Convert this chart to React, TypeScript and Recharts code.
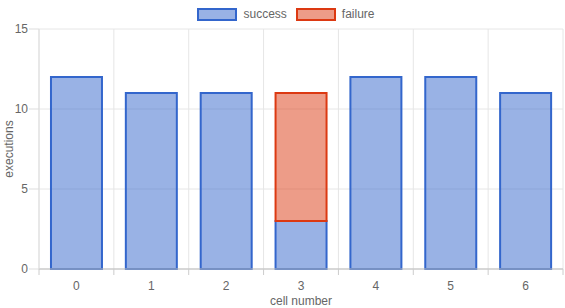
import { BarChart, Bar, XAxis, YAxis, CartesianGrid } from 'recharts'

// cell numbers and how many executions passed / failed in each
const cells = ['0', '1', '2', '3', '4', '5', '6']
const success = [12, 11, 11, 3, 12, 12, 11]
const failure = [0, 0, 0, 8, 0, 0, 0]
const yTicks = [0, 5, 10, 15]

const data = cells.map((c, i) => ({ cell: c, success: success[i], failure: failure[i] || null }))

const W = 565
const H = 308
const M = { top: 29, right: 2, left: 0, bottom: 0 }
const Y_W = 39
const X_H = 39
const FONT = '"Helvetica Neue", Helvetica, Arial, "Liberation Sans", sans-serif'
const TXT = '#666'
const BLUE = '#3366cc'
const RED = '#dc3912'

const plotW = W - M.left - Y_W - M.right
const band = plotW / cells.length
const axisY = H - M.bottom - X_H

function LegendBox() {
  const item = (label: string, color: string) => (
    <div style={{ display: 'flex', alignItems: 'center', marginRight: 9 }}>
      <div style={{ width: 36, height: 9, border: `2px solid ${color}`, background: color + '80', marginRight: 6 }} />
      <span style={{ fontSize: 12, color: TXT, fontFamily: FONT }}>{label}</span>
    </div>
  )
  return (
    <div style={{ position: 'absolute', left: 0, top: 2, width: W, height: 24, display: 'flex', justifyContent: 'center', alignItems: 'center', paddingLeft: 16, boxSizing: 'border-box' }}>
      {item('success', BLUE)}
      {item('failure', RED)}
    </div>
  )
}

function CellTick(props: any) {
  const { x, payload, index } = props
  const left = x - band / 2
  return (
    <g>
      <line x1={left} x2={left} y1={axisY} y2={axisY + 6} stroke="#ccc" />
      {index === cells.length - 1 && <line x1={x + band / 2} x2={x + band / 2} y1={axisY} y2={axisY + 6} stroke="#ccc" />}
      <text x={x} y={axisY + 21} textAnchor="middle" fill={TXT} fontSize={12} fontFamily={FONT}>
        {payload.value}
      </text>
    </g>
  )
}

export default function App() {
  return (
    <div style={{ position: 'absolute', left: 0, top: 0, width: W, height: H, background: '#fff' }}>
      <BarChart width={W} height={H} data={data} margin={M} barCategoryGap="16%">
        <CartesianGrid
          stroke="#e6e6e6"
          verticalCoordinatesGenerator={({ offset }: any) =>
            Array.from({ length: cells.length + 1 }, (_, i) => offset.left + i * band)
          }
        />
        <XAxis
          dataKey="cell"
          height={X_H}
          tickLine={false}
          tick={<CellTick />}
          axisLine={{ stroke: '#bbb' }}
          label={{ value: 'cell number', position: 'insideBottom', offset: 3, fill: TXT, fontSize: 12, fontFamily: FONT }}
        />
        <YAxis
          width={Y_W}
          domain={[0, 15]}
          ticks={yTicks}
          tickSize={10}
          tickMargin={1}
          tickLine={{ stroke: '#ddd' }}
          axisLine={{ stroke: '#ddd' }}
          tick={{ fill: TXT, fontSize: 12, fontFamily: FONT }}
          label={{ value: 'executions', angle: -90, position: 'insideLeft', offset: 9, fill: TXT, fontSize: 12, fontFamily: FONT, style: { textAnchor: 'middle' } }}
        />
        <Bar dataKey="success" stackId="a" fill={BLUE} fillOpacity={0.5} stroke={BLUE} strokeWidth={2} isAnimationActive={false} />
        <Bar dataKey="failure" stackId="a" fill={RED} fillOpacity={0.5} stroke={RED} strokeWidth={2} isAnimationActive={false} />
      </BarChart>
      <LegendBox />
    </div>
  )
}
